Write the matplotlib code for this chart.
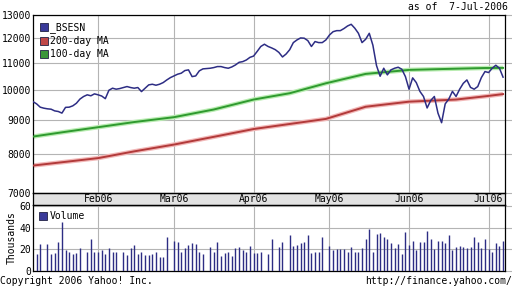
import numpy as np
import pandas as pd
import matplotlib
matplotlib.use("Agg")
import matplotlib.pyplot as plt
from matplotlib.lines import Line2D

plt.rcParams['font.family'] = ['DejaVu Sans Mono']

# ---------------- data ----------------
dates = pd.bdate_range('2006-01-06', '2006-07-07')  # weekday slots (x = slot index)
holidays = ['2006-01-11', '2006-01-26', '2006-02-09', '2006-03-01', '2006-03-15',
            '2006-04-06', '2006-04-11', '2006-04-14', '2006-05-01']

bsesn = [9610, 9535, 9426, 9393, 9372, 9360, 9305, 9285, 9233, 9420,
         9426, 9470, 9556, 9698, 9784, 9841, 9808, 9874, 9841, 9800,
         9710, 10000, 10071, 10036, 10059, 10094, 10129, 10094, 10071, 10094,
         9953, 10070, 10188, 10211, 10176, 10211, 10270, 10365, 10450, 10512,
         10575, 10612, 10710, 10736, 10486, 10512, 10700, 10773, 10785, 10797,
         10822, 10860, 10860, 10822, 10797, 10847, 10922, 11023, 11049, 11112,
         11215, 11265, 11450, 11648, 11740, 11650, 11590, 11520, 11410, 11230,
         11347, 11520, 11807, 11917, 12000, 11990, 11890, 11648, 11850, 11807,
         11807, 11917, 12125, 12265, 12310, 12310, 12400, 12512, 12585, 12415,
         12196, 11807, 11945, 12196, 11700, 10900, 10500, 10797, 10550, 10736,
         10797, 10835, 10760, 10486, 10036, 10440, 10270, 9960, 9784, 9400,
         9650, 9784, 9233, 8929, 9535, 9698, 9960, 9784, 10036,
         10243, 10365, 10100, 10036, 10129, 10450, 10673, 10636, 10797, 10910,
         10797, 10467]

ma_slot = [0, 9, 18, 28, 39, 50, 61, 71, 81, 92, 104, 117, 125, 130]
ma100 = [8508, 8650, 8790, 8950, 9103, 9350, 9680, 9896, 10245, 10586, 10735, 10780, 10806, 10810]
ma200 = [7690, 7790, 7892, 8080, 8274, 8500, 8734, 8890, 9048, 9440, 9609, 9680, 9790, 9866]

volume = [16, 25, 25, 16, 17, 27, 45, 19, 18, 16, 17, 21,
          18, 30, 18, 18, 19, 16, 21, 18, 18,
          18, 15, 21, 24, 16, 18, 15, 15, 16, 18, 13, 13, 31,
          28, 27, 18, 21, 24, 26, 25, 18, 16, 22,
          18, 27, 14, 17, 18, 14, 21, 22, 19, 18, 23, 17, 17,
          18, 16, 30, 22, 27, 33, 23, 24, 26, 27, 33, 17, 18, 18, 31, 23,
          19, 20, 20, 20, 18, 22, 18, 18, 21, 30, 39, 18, 34, 35, 31, 30, 26, 21, 25, 16,
          36, 24, 28, 19, 27, 27, 37, 30, 20, 28, 28, 26, 33, 19, 22, 23, 22, 21, 22,
          31, 27, 21, 30, 20, 18, 26, 23, 28]

price_ticks = [7000, 8000, 9000, 10000, 11000, 12000, 13000]
vol_ticks = [0, 20, 40, 60]

# -------------- derived positions --------------
x = np.arange(len(dates))
hol = pd.to_datetime(holidays)
trading = [i for i, d in enumerate(dates) if d not in hol and i > 0]
vol_x = np.array(trading[:len(volume)])
months = []
seen = {(dates[0].year, dates[0].month)}
for i, d in enumerate(dates):
    key = (d.year, d.month)
    if d in hol:
        continue
    if key not in seen:
        seen.add(key)
        months.append((i, d.strftime('%b%y')))
month_x = [m[0] for m in months]
month_lbl = [m[1] for m in months]

# -------------- figure --------------
W, H = 512, 288
fig = plt.figure(figsize=(W / 100, H / 100), dpi=100)
L, R = 33, 504.5

def box(top, bottom):
    return [L / W, 1 - bottom / H, (R - L) / W, (bottom - top) / H]

ax = fig.add_axes(box(15, 192.5))
band = fig.add_axes(box(192.5, 205))
axv = fig.add_axes(box(205, 271))

navy = '#2d2d84'
grid_c = '#b4b4b4'
fs = 7.0
xlim = (0, 130.4)


def right_ticks(a, ticks, ylim, log=False):
    t = a.twinx()
    if log:
        t.set_yscale('log')
    t.set_ylim(*ylim)
    t.set_yticks(ticks)
    t.yaxis.set_minor_locator(matplotlib.ticker.NullLocator())
    t.tick_params(axis='y', right=True, length=6, width=0.8, color=grid_c,
                  labelright=False)
    t.set_zorder(0)
    for s in t.spines.values():
        s.set_visible(False)
    return t

# main
ax.set_yscale('log')
ax.plot(ma_slot, ma200, color='#f2b8b8', lw=3.2, solid_capstyle='butt', zorder=2)
ax.plot(ma_slot, ma200, color='#b23a3a', lw=1.4, zorder=3)
ax.plot(ma_slot, ma100, color='#b8ecb0', lw=3.2, solid_capstyle='butt', zorder=2)
ax.plot(ma_slot, ma100, color='#2f9a2f', lw=1.4, zorder=3)
ax.plot(x, bsesn, color=navy, lw=1.1, zorder=4)
ax.set_xlim(*xlim)
ax.set_ylim(7000, 13000)
ax.set_yticks(price_ticks)
ax.set_yticklabels([str(t) for t in price_ticks])
ax.yaxis.set_minor_locator(matplotlib.ticker.NullLocator())
ax.set_xticks(month_x)
ax.tick_params(axis='x', bottom=False, labelbottom=False)
ax.tick_params(axis='y', length=0, labelsize=fs, pad=1.5)
ax.grid(True, color=grid_c, lw=0.8)
for s in ax.spines.values():
    s.set_linewidth(0.9)
right_ticks(ax, price_ticks, (7000, 13000), log=True)
ax.set_zorder(2)
ax.patch.set_alpha(0)

handles = [Line2D([], [], marker='s', ls='none', ms=5.5, mfc=c, mec='#222244', mew=0.6)
           for c in ['#3a3a9a', '#c04848', '#3a963a']]
ax.legend(handles, ['_BSESN', '200-day MA', '100-day MA'], loc='upper left',
          frameon=False, fontsize=fs, handlelength=0.7, handletextpad=0.35,
          labelspacing=0.3, borderaxespad=0.55, borderpad=0.2)

# band with month labels
band.set_facecolor('#e2e2e2')
band.set_xlim(*xlim)
band.set_ylim(0, 1)
band.set_xticks([])
band.set_yticks([])
for s in band.spines.values():
    s.set_linewidth(0.9)
for mx, ml in zip(month_x, month_lbl):
    band.text(mx, 0.45, ml, transform=band.get_xaxis_transform(),
              ha='center', va='center', fontsize=fs)

# volume
axv.vlines(vol_x, 0, volume, color=navy, lw=1.0, zorder=3)
axv.set_xlim(*xlim)
axv.set_ylim(0, 61)
axv.set_yticks(vol_ticks)
axv.set_xticks(month_x)
axv.tick_params(axis='x', bottom=False, labelbottom=False)
axv.tick_params(axis='y', length=0, labelsize=fs, pad=1.5)
axv.grid(True, color=grid_c, lw=0.8)
for s in axv.spines.values():
    s.set_linewidth(0.9)
axv.set_ylabel('Thousands', fontsize=fs, labelpad=2)
right_ticks(axv, vol_ticks, (0, 61))
axv.set_zorder(2)
axv.patch.set_alpha(0)
vh = [Line2D([], [], marker='s', ls='none', ms=5.5, mfc='#3a3a9a', mec='#222244', mew=0.6)]
axv.legend(vh, ['Volume'], loc='upper left', frameon=False, fontsize=fs,
           handlelength=0.7, handletextpad=0.35, borderaxespad=0.2, borderpad=0.45)

fig.text(508 / W, 1 - 7 / H, 'as of  7-Jul-2006', ha='right', va='center', fontsize=fs)
fig.text(0, 1 - 281 / H, 'Copyright 2006 Yahoo! Inc.', ha='left', va='center', fontsize=fs)
fig.text(1, 1 - 281 / H, 'http://finance.yahoo.com/', ha='right', va='center', fontsize=fs)

fig.savefig('out.png', dpi=100)
